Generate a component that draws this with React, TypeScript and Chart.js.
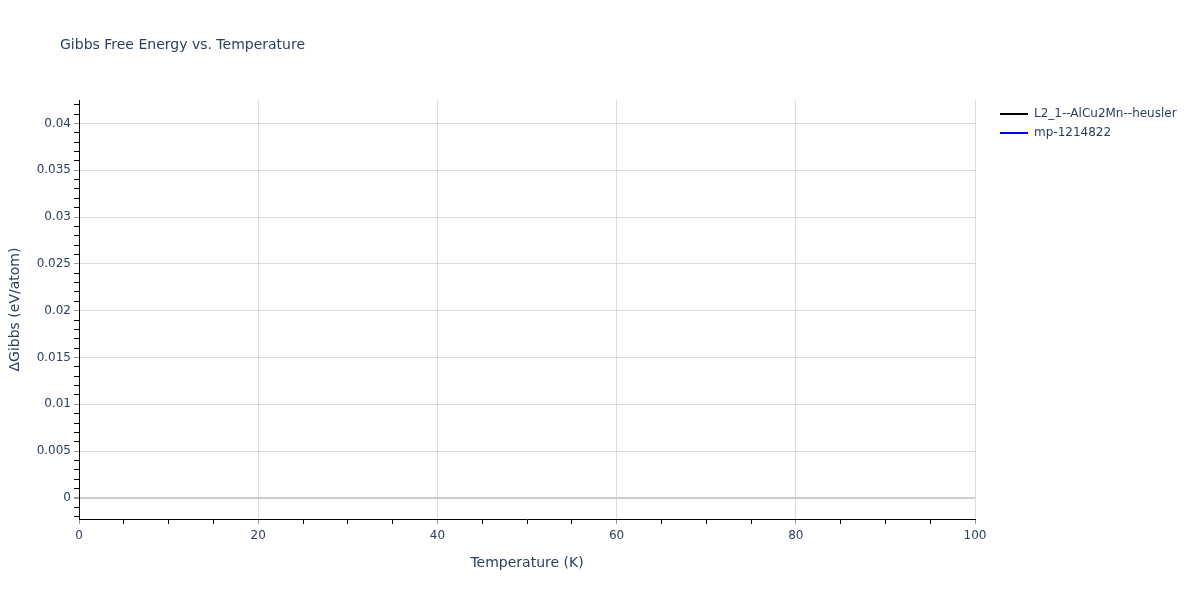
import { useEffect, useRef } from "react"
import { Chart, registerables } from "chart.js"

Chart.register(...registerables)

// series (no points survive in the reference plot, only the legend entries)
const seriesNames = ["L2_1--AlCu2Mn--heusler", "mp-1214822"]
const seriesColors = ["#000000", "#0000ff"]
const temperatures: number[] = []
const gibbsHeusler: number[] = []
const gibbsMp: number[] = []

// axis ticks
const xMajorTicks = [0, 20, 40, 60, 80, 100]
const xTickLabels = ["0", "20", "40", "60", "80", "100"]
const yMajorTicks = [0, 0.005, 0.01, 0.015, 0.02, 0.025, 0.03, 0.035, 0.04]
const yTickLabels = ["0", "0.005", "0.01", "0.015", "0.02", "0.025", "0.03", "0.035", "0.04"]

const textColor = "#2a3f5f"
const fontFamily = '"DejaVu Sans", verdana, arial, sans-serif'

const minorSteps = (from: number, to: number, step: number) => {
  const out: number[] = []
  for (let i = Math.round(from / step); i * step <= to + 1e-9; i++) out.push(+(i * step).toFixed(6))
  return out
}

const isMajor = (v: number, majors: number[]) => majors.some((m) => Math.abs(m - v) < 1e-9)

const overlayPlugin = {
  id: "overlay",
  afterDraw(chart: Chart) {
    const ctx = chart.ctx
    ctx.save()
    ctx.fillStyle = textColor
    ctx.textBaseline = "middle"
    ctx.textAlign = "left"
    ctx.font = `14px ${fontFamily}`
    ctx.fillText("Gibbs Free Energy vs. Temperature", 60, 45)

    ctx.font = `12px ${fontFamily}`
    chart.data.datasets.forEach((ds, i) => {
      const y = 114 + i * 19
      ctx.strokeStyle = ds.borderColor as string
      ctx.lineWidth = 2
      ctx.beginPath()
      ctx.moveTo(1000, y)
      ctx.lineTo(1028, y)
      ctx.stroke()
      ctx.fillStyle = textColor
      ctx.fillText(ds.label || "", 1034, y)
    })
    ctx.restore()
  },
}

export default function App() {
  const chartRef = useRef<HTMLCanvasElement>(null)
  const chartInstance = useRef<Chart | null>(null)

  useEffect(() => {
    if (!chartRef.current) return
    if (chartInstance.current) chartInstance.current.destroy()

    const ctx = chartRef.current.getContext("2d")
    if (!ctx) return

    Chart.defaults.font.family = fontFamily
    Chart.defaults.color = textColor

    const xTicks = minorSteps(0, 100, 5)
    const yTicks = minorSteps(-0.002, 0.042, 0.001)

    chartInstance.current = new Chart(ctx, {
      type: "line",
      data: {
        datasets: [
          {
            label: seriesNames[0],
            data: temperatures.map((t, i) => ({ x: t, y: gibbsHeusler[i] })),
            borderColor: seriesColors[0],
            borderWidth: 2,
            pointRadius: 0,
          },
          {
            label: seriesNames[1],
            data: temperatures.map((t, i) => ({ x: t, y: gibbsMp[i] })),
            borderColor: seriesColors[1],
            borderWidth: 2,
            pointRadius: 0,
          },
        ],
      },
      options: {
        responsive: false,
        animation: false,
        layout: { padding: { top: 100, right: 225, left: 0, bottom: 0 } },
        plugins: {
          legend: { display: false },
          tooltip: { enabled: false },
        },
        scales: {
          x: {
            type: "linear",
            min: 0,
            max: 100,
            afterFit: (scale) => {
              scale.height = 81
            },
            afterBuildTicks: (scale) => {
              scale.ticks = xTicks.map((value) => ({ value }))
            },
            ticks: {
              autoSkip: false,
              maxRotation: 0,
              padding: 5,
              font: { size: 12 },
              callback: (value) => {
                const i = xMajorTicks.findIndex((m) => Math.abs(m - (value as number)) < 1e-9)
                return i >= 0 ? xTickLabels[i] : ""
              },
            },
            grid: {
              tickLength: 5,
              color: (c) => (isMajor(c.tick.value, xMajorTicks) ? "#dcdcdc" : "rgba(0,0,0,0)"),
              tickColor: (c) => (isMajor(c.tick.value, xMajorTicks) ? "#999999" : "#000000"),
            },
            border: { color: "#000000", width: 1 },
            title: {
              display: true,
              text: "Temperature (K)",
              font: { size: 14 },
              padding: { top: 0, bottom: 28 },
            },
          },
          y: {
            type: "linear",
            min: -0.00225,
            max: 0.0425,
            afterFit: (scale) => {
              scale.width = 79
            },
            afterBuildTicks: (scale) => {
              scale.ticks = yTicks.map((value) => ({ value }))
            },
            ticks: {
              autoSkip: false,
              padding: 3,
              font: { size: 12 },
              callback: (value) => {
                const i = yMajorTicks.findIndex((m) => Math.abs(m - (value as number)) < 1e-9)
                return i >= 0 ? yTickLabels[i] : ""
              },
            },
            grid: {
              tickLength: 5,
              color: (c) => {
                const v = c.tick.value
                if (Math.abs(v) < 1e-9) return "#cccccc"
                return isMajor(v, yMajorTicks) ? "#dcdcdc" : "rgba(0,0,0,0)"
              },
              lineWidth: (c) => (Math.abs(c.tick.value) < 1e-9 ? 2 : 1),
              tickColor: (c) => (isMajor(c.tick.value, yMajorTicks) ? "#999999" : "#000000"),
            },
            border: { color: "#000000", width: 1 },
            title: {
              display: true,
              text: "ΔGibbs (eV/atom)",
              font: { size: 14 },
              padding: { top: 7, bottom: 0 },
            },
          },
        },
      },
      plugins: [overlayPlugin],
    })

    return () => {
      if (chartInstance.current) {
        chartInstance.current.destroy()
        chartInstance.current = null
      }
    }
  }, [])

  return (
    <div style={{ position: "absolute", left: 0, top: 0, width: 1200, height: 600, background: "#fff" }}>
      <canvas ref={chartRef} width={1200} height={600} />
    </div>
  )
}
